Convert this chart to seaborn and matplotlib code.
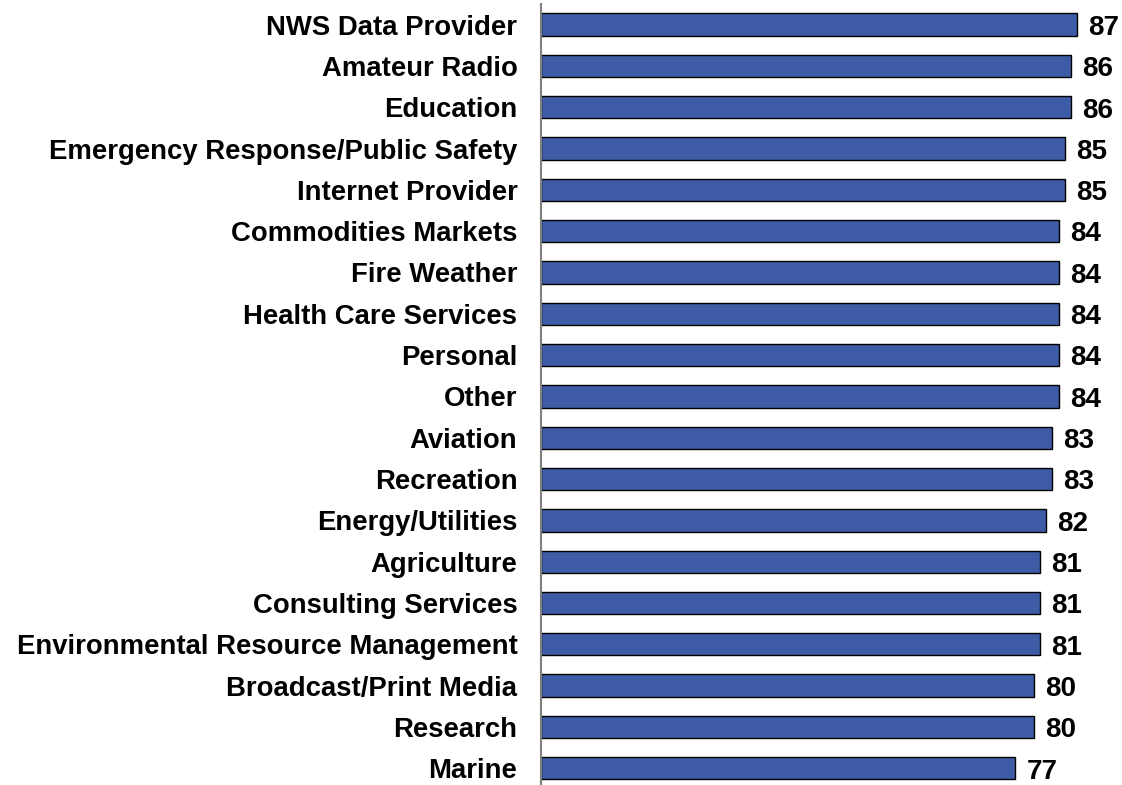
import matplotlib
matplotlib.use("Agg")
import matplotlib.pyplot as plt
import seaborn as sns
import pandas as pd

categories = [
    "NWS Data Provider", "Amateur Radio", "Education",
    "Emergency Response/Public Safety", "Internet Provider",
    "Commodities Markets", "Fire Weather", "Health Care Services",
    "Personal", "Other", "Aviation", "Recreation", "Energy/Utilities",
    "Agriculture", "Consulting Services", "Environmental Resource Management",
    "Broadcast/Print Media", "Research", "Marine",
]
scores = [87, 86, 86, 85, 85, 84, 84, 84, 84, 84, 83, 83, 82, 81, 81, 81, 80, 80, 77]

df = pd.DataFrame({"category": categories, "score": scores})

sns.set_style("white")
plt.rcParams['font.family'] = ['Liberation Sans', 'DejaVu Sans']
plt.rcParams['text.color'] = 'black'
plt.rcParams['ytick.color'] = 'black'

fig = plt.figure(figsize=(11.22, 7.85), dpi=100)
ax = fig.add_axes([0.4822, -0.005, 0.5178, 1.0])

sns.barplot(data=df, x="score", y="category", orient="h", color="#3E5CA5",
            saturation=1, width=0.54, edgecolor="black", linewidth=1, ax=ax)

# value labels just right of each bar
for i, v in enumerate(scores):
    ax.text(v + 1.8, i + 0.08, str(v), va="center", ha="left",
            fontsize=20, fontweight="bold", color="black")

ax.set_xlim(0, 94.3)
ax.set_ylim(18.5, -0.5)
ax.set_xlabel("")
ax.set_ylabel("")
ax.set_xticks([])
ax.tick_params(axis="y", length=0, pad=17, labelsize=19.8, labelcolor="black")
for lbl in ax.get_yticklabels():
    lbl.set_fontweight("bold")
for s in ["top", "right", "bottom"]:
    ax.spines[s].set_visible(False)
ax.spines["left"].set_color("#808080")
ax.spines["left"].set_linewidth(1.5)

fig.savefig("out.png", dpi=100)
